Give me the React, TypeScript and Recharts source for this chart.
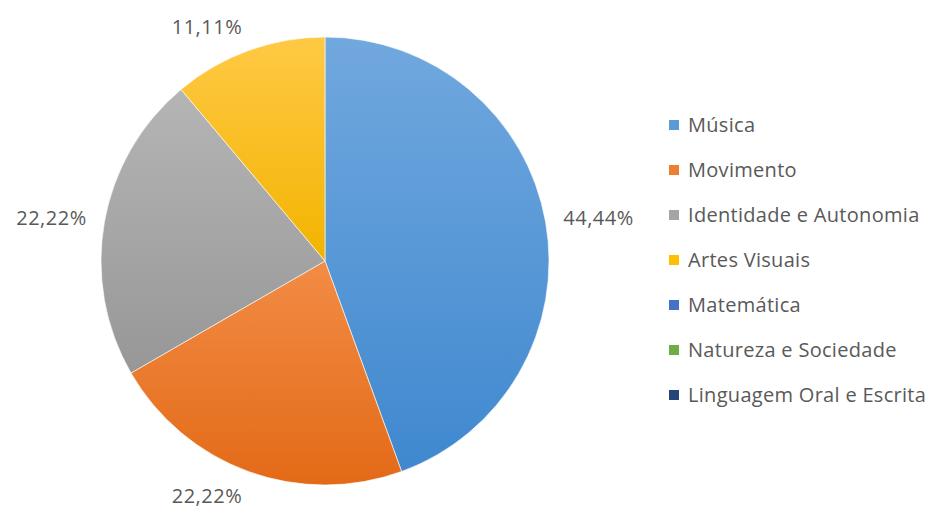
import { PieChart, Pie, Cell, Legend } from 'recharts'

const categories = [
  'Música',
  'Movimento',
  'Identidade e Autonomia',
  'Artes Visuais',
  'Matemática',
  'Natureza e Sociedade',
  'Linguagem Oral e Escrita',
]
const percentages = [44.44, 22.22, 22.22, 11.11, 0, 0, 0]
const colors = ['#5b9bd5', '#ed7d31', '#a5a5a5', '#ffc000', '#4472c4', '#70ad47', '#264478']
const topColors = ['#71a8de', '#f28c45', '#b5b5b5', '#ffc945', '#5a84cc', '#82b95c', '#365487']
const bottomColors = ['#3f88cf', '#e36a17', '#979797', '#f2b400', '#3563b8', '#5f9c39', '#1d3866']

const data = categories.map((name, i) => ({ name, value: percentages[i] }))

const RAD = Math.PI / 180
const textColor = '#595959'
const font = '"Open Sans", "Noto Sans", sans-serif'

// labels sit just outside the slice, anchored away from the pie
function renderLabel(props: any) {
  const { cx, cy, midAngle, outerRadius, value } = props
  if (!value) return null
  const cos = Math.cos(midAngle * RAD)
  const sin = Math.sin(midAngle * RAD)
  const x = cx + (outerRadius + 18) * cos
  const y = cy - (outerRadius + 26) * sin
  return (
    <text
      x={x}
      y={y}
      textAnchor={cos >= 0 ? 'start' : 'end'}
      dominantBaseline="central"
      fill={textColor}
      style={{ fontSize: '20px', fontFamily: font, letterSpacing: '0.5px' }}
    >
      {value.toFixed(2).replace('.', ',')}%
    </text>
  )
}

function renderLegend() {
  return (
    <div style={{ fontFamily: font, fontSize: '20px', color: textColor, letterSpacing: '0.3px' }}>
      {categories.map((name, i) => (
        <div key={name} style={{ display: 'flex', alignItems: 'center', height: 45 }}>
          <span
            style={{
              display: 'inline-block',
              width: 10,
              height: 10,
              background: colors[i],
              marginRight: 9,
            }}
          />
          <span>{name}</span>
        </div>
      ))}
    </div>
  )
}

export default function App() {
  return (
    <div style={{ position: 'absolute', left: 0, top: 0, background: '#fff' }}>
      <style>{'.recharts-pie-sectors { filter: drop-shadow(0 2px 3px rgba(0,0,0,0.35)); }'}</style>
      <PieChart width={933} height={511}>
        <defs>
          {colors.map((c, i) => (
            <linearGradient key={c} id={`grad${i}`} x1="0" y1="0" x2="0" y2="1">
              <stop offset="0%" stopColor={topColors[i]} />
              <stop offset="100%" stopColor={bottomColors[i]} />
            </linearGradient>
          ))}
        </defs>
        <Pie
          data={data}
          dataKey="value"
          nameKey="name"
          cx={320}
          cy={256}
          outerRadius={224}
          startAngle={90}
          endAngle={-270}
          stroke="rgba(255,255,255,0.6)"
          strokeWidth={1}
          label={renderLabel}
          labelLine={false}
          isAnimationActive={false}
        >
          {data.map((d, i) => (
            <Cell key={d.name} fill={`url(#grad${i})`} />
          ))}
        </Pie>
        <Legend
          layout="vertical"
          align="right"
          verticalAlign="top"
          content={renderLegend}
          wrapperStyle={{ left: 669, top: 102, width: 264 }}
        />
      </PieChart>
    </div>
  )
}
